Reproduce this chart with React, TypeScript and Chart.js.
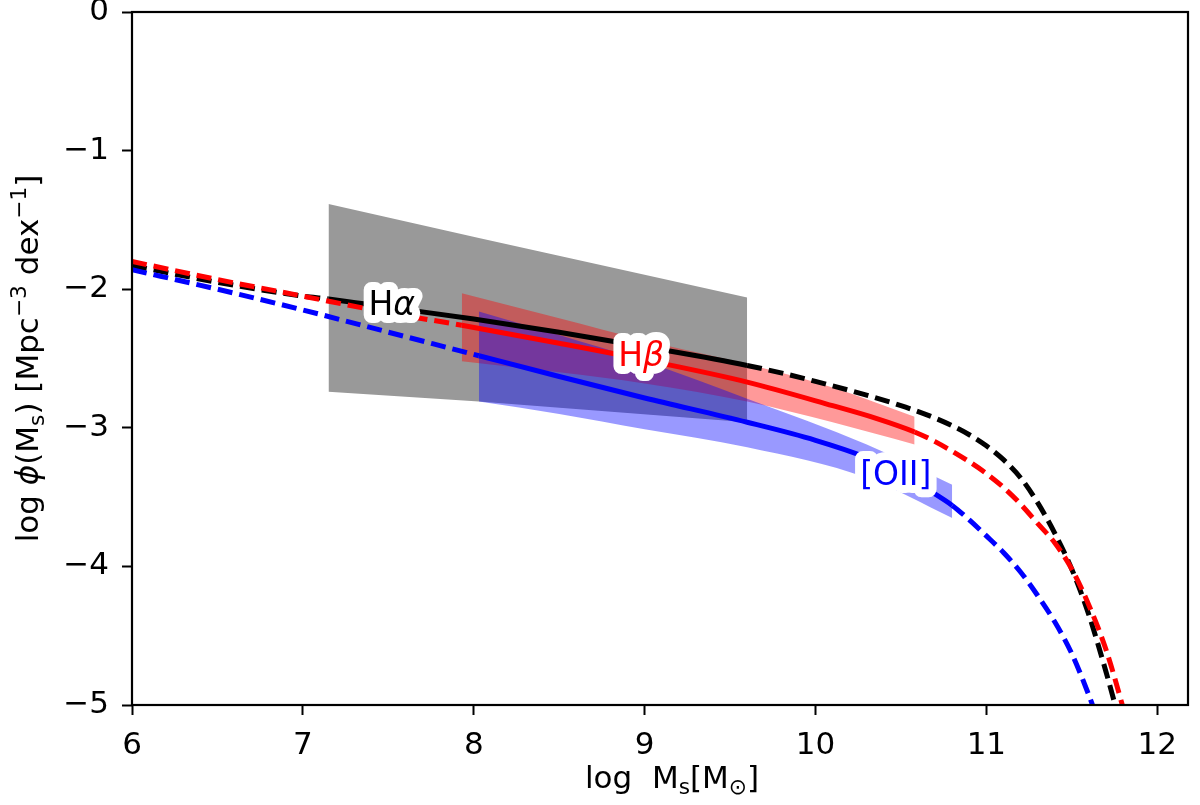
import { useEffect, useRef } from 'react';
import { Chart, registerables } from 'chart.js';

Chart.register(...registerables);

// axis ticks
const X_TICKS = [6, 7, 8, 9, 10, 11, 12];
const Y_TICKS = [-5, -4, -3, -2, -1, 0];

// Halpha curve (black), solid between 7.15 and 9.6
const HA_X = [6.0, 6.5, 7.0, 7.15, 7.5, 8.0, 8.5, 9.0, 9.6, 10.0, 10.5, 10.7, 10.8, 10.9, 11.0, 11.1, 11.2, 11.3, 11.4, 11.5, 11.6, 11.7, 11.78];
const HA_Y = [-1.83, -1.95, -2.05, -2.07, -2.13, -2.215, -2.31, -2.415, -2.55, -2.665, -2.84, -2.93, -2.985, -3.05, -3.13, -3.23, -3.36, -3.54, -3.76, -4.02, -4.35, -4.76, -5.12];
const HA_SOLID = [7.15, 9.6];

// Hbeta curve (red), solid between 7.93 and 10.58
const HB_X = [6.0, 6.5, 7.0, 7.5, 7.93, 8.5, 9.0, 9.6, 10.1, 10.35, 10.58, 10.7, 10.9, 11.0, 11.1, 11.2, 11.3, 11.4, 11.5, 11.6, 11.7, 11.8, 11.83];
const HB_Y = [-1.80, -1.93, -2.05, -2.17, -2.26, -2.39, -2.51, -2.67, -2.84, -2.93, -3.03, -3.10, -3.245, -3.33, -3.43, -3.55, -3.69, -3.83, -4.02, -4.28, -4.60, -5.02, -5.16];
const HB_SOLID = [7.93, 10.58];

// [OII] curve (blue), solid between 8.03 and 10.8
const OII_X = [6.0, 6.5, 7.0, 7.5, 8.03, 8.5, 9.0, 9.6, 10.0, 10.3, 10.5, 10.65, 10.8, 10.9, 11.0, 11.1, 11.2, 11.3, 11.4, 11.5, 11.6, 11.65];
const OII_Y = [-1.86, -2.0, -2.15, -2.31, -2.48, -2.63, -2.785, -2.96, -3.09, -3.215, -3.33, -3.44, -3.56, -3.665, -3.78, -3.90, -4.04, -4.21, -4.40, -4.63, -4.93, -5.1];
const OII_SOLID = [8.03, 10.8];

// shaded regions
const GRAY_X = [7.15, 8.03, 9.6];
const GRAY_HI = [-1.385, -1.63, -2.06];
const GRAY_LO = [-2.74, -2.81, -2.96];

const HB_BAND_X = [7.93, 8.5, 9.0, 9.6, 10.1, 10.58];
const HB_BAND_HI = [-2.03, -2.21, -2.37, -2.54, -2.71, -2.92];
const HB_BAND_LO = [-2.52, -2.60, -2.68, -2.81, -2.96, -3.12];

const OII_BAND_X = [8.03, 8.5, 9.0, 9.6, 10.3, 10.8];
const OII_BAND_HI = [-2.16, -2.33, -2.52, -2.79, -3.12, -3.41];
const OII_BAND_LO = [-2.81, -2.90, -3.01, -3.14, -3.36, -3.65];

type Part = { t: string; sub?: boolean; sup?: boolean; it?: boolean };

const LABELS: { parts: Part[]; x: number; y: number; color: string }[] = [
  { parts: [{ t: 'H' }, { t: 'α', it: true }], x: 7.52, y: -2.1, color: '#000000' },
  { parts: [{ t: 'H' }, { t: 'β', it: true }], x: 8.98, y: -2.47, color: '#ff0000' },
  { parts: [{ t: '[OII]' }], x: 10.47, y: -3.33, color: '#0000ff' },
];

const X_TITLE: Part[] = [{ t: 'log  M' }, { t: 's', sub: true }, { t: '[M' }, { t: '⊙', sub: true }, { t: ']' }];
const Y_TITLE: Part[] = [
  { t: 'log ' }, { t: 'ϕ', it: true }, { t: '(M' }, { t: 's', sub: true }, { t: ') [Mpc' },
  { t: '−3', sup: true }, { t: ' dex' }, { t: '−1', sup: true }, { t: ']' },
];

const FONT = "'DejaVu Sans', sans-serif";
const DASH = [15, 7];
const TICK_SIZE = 31;
const LABEL_SIZE = 33;

function pts(xs: number[], ys: number[]) { return xs.map((x, i) => ({ x, y: ys[i] })); }
function fmt(v: number) { return v === 0 ? '0' : (v < 0 ? '−' : '') + Math.abs(v); }

function partFont(p: Part, size: number) {
  const s = p.sub || p.sup ? size * 0.7 : size;
  return `${p.it ? 'italic ' : ''}${s}px ${FONT}`;
}
function richWidth(ctx: CanvasRenderingContext2D, parts: Part[], size: number) {
  let w = 0;
  for (const p of parts) { ctx.font = partFont(p, size); w += ctx.measureText(p.t).width; }
  return w;
}
function drawRich(ctx: CanvasRenderingContext2D, parts: Part[], x: number, y: number, size: number, stroke = false) {
  let cx = x;
  for (const p of parts) {
    ctx.font = partFont(p, size);
    const dy = p.sub ? size * 0.2 : p.sup ? -size * 0.4 : 0;
    if (stroke) ctx.strokeText(p.t, cx, y + dy); else ctx.fillText(p.t, cx, y + dy);
    cx += ctx.measureText(p.t).width;
  }
}

function curve(xs: number[], ys: number[], color: string, solid: number[], order: number) {
  return {
    data: pts(xs, ys), borderColor: color, borderWidth: 5, pointRadius: 0, order,
    cubicInterpolationMode: 'monotone', fill: false, clip: 0, borderCapStyle: 'butt',
    segment: {
      borderDash: (c: any) => (c.p0.parsed.x >= solid[0] - 1e-6 && c.p1.parsed.x <= solid[1] + 1e-6 ? [] : DASH),
    },
  };
}
function band(xs: number[], lo: number[], hi: number[], color: string, smooth: boolean, order: number) {
  const base = { borderColor: 'transparent', borderWidth: 0, pointRadius: 0, clip: 0, order, cubicInterpolationMode: smooth ? 'monotone' : 'default', tension: 0 };
  return [
    { ...base, data: pts(xs, lo), fill: false },
    { ...base, data: pts(xs, hi), fill: '-1', backgroundColor: color },
  ];
}

const overlay = {
  id: 'overlay',
  afterDatasetsDraw(chart: any) {
    const ctx = chart.ctx as CanvasRenderingContext2D;
    const { x: sx, y: sy } = chart.scales;
    const size = LABEL_SIZE;
    ctx.save();
    ctx.textBaseline = 'alphabetic';
    ctx.textAlign = 'left';
    for (const l of LABELS) {
      const w = richWidth(ctx, l.parts, size);
      const px = sx.getPixelForValue(l.x) - w / 2;
      const py = sy.getPixelForValue(l.y) + size * 0.36;
      ctx.strokeStyle = '#ffffff'; ctx.lineWidth = 16; ctx.lineJoin = 'round';
      drawRich(ctx, l.parts, px, py, size, true);
      ctx.fillStyle = l.color;
      drawRich(ctx, l.parts, px, py, size);
    }
    ctx.restore();
  },
  afterDraw(chart: any) {
    const ctx = chart.ctx as CanvasRenderingContext2D;
    const a = chart.chartArea;
    ctx.save();
    ctx.strokeStyle = '#000'; ctx.lineWidth = 2.2;
    ctx.strokeRect(a.left, a.top, a.right - a.left, a.bottom - a.top);
    ctx.fillStyle = '#000'; ctx.textAlign = 'left'; ctx.textBaseline = 'alphabetic';
    const size = TICK_SIZE;
    const wx = richWidth(ctx, X_TITLE, size);
    drawRich(ctx, X_TITLE, (a.left + a.right) / 2 + 12 - wx / 2, 788, size);
    ctx.translate(38, (a.top + a.bottom) / 2);
    ctx.rotate(-Math.PI / 2);
    const wy = richWidth(ctx, Y_TITLE, size);
    drawRich(ctx, Y_TITLE, -wy / 2, 0, size);
    ctx.restore();
  },
};

export default function App() {
  const ref = useRef<HTMLCanvasElement>(null);
  const ci = useRef<Chart | null>(null);

  useEffect(() => {
    if (!ref.current) return;
    ci.current?.destroy();
    const tickGrid = { drawOnChartArea: false, drawTicks: true, tickLength: 10, tickWidth: 2, tickColor: '#000' };
    ci.current = new Chart(ref.current, {
      type: 'line',
      data: {
        datasets: [
          ...band(GRAY_X, GRAY_LO, GRAY_HI, '#999999', false, 30),
          ...band(HB_BAND_X, HB_BAND_LO, HB_BAND_HI, 'rgba(255,0,0,0.4)', true, 20),
          ...band(OII_BAND_X, OII_BAND_LO, OII_BAND_HI, 'rgba(0,0,255,0.4)', true, 10),
          curve(HA_X, HA_Y, '#000000', HA_SOLID, 3),
          curve(HB_X, HB_Y, '#ff0000', HB_SOLID, 2),
          curve(OII_X, OII_Y, '#0000ff', OII_SOLID, 1),
        ] as any,
      },
      options: {
        animation: false, responsive: true, maintainAspectRatio: false, events: [],
        layout: { padding: { top: 12, right: 12, left: 0, bottom: 0 } },
        plugins: { legend: { display: false }, tooltip: { enabled: false } },
        scales: {
          x: {
            type: 'linear', min: 6, max: 12.18,
            afterBuildTicks: (s: any) => { s.ticks = X_TICKS.map(v => ({ value: v })); },
            afterFit: (s: any) => { s.height = 100; s.paddingLeft = 0; s.paddingRight = 0; },
            grid: tickGrid, border: { display: false },
            ticks: { color: '#000', font: { family: FONT, size: TICK_SIZE }, padding: 12, autoSkip: false, maxRotation: 0, callback: (v: any) => fmt(Number(v)) },
          },
          y: {
            type: 'linear', min: -5, max: 0,
            afterBuildTicks: (s: any) => { s.ticks = Y_TICKS.map(v => ({ value: v })); },
            afterFit: (s: any) => { s.width = 132; s.paddingTop = 0; s.paddingBottom = 0; },
            grid: tickGrid, border: { display: false },
            ticks: { color: '#000', font: { family: FONT, size: TICK_SIZE }, padding: 13, autoSkip: false, callback: (v: any) => fmt(Number(v)) },
          },
        },
      } as any,
      plugins: [overlay],
    });
    return () => { ci.current?.destroy(); ci.current = null; };
  }, []);

  return (
    <div style={{ position: 'fixed', left: 0, top: 0, width: 1200, height: 805, background: '#fff' }}>
      <canvas ref={ref} />
    </div>
  );
}
